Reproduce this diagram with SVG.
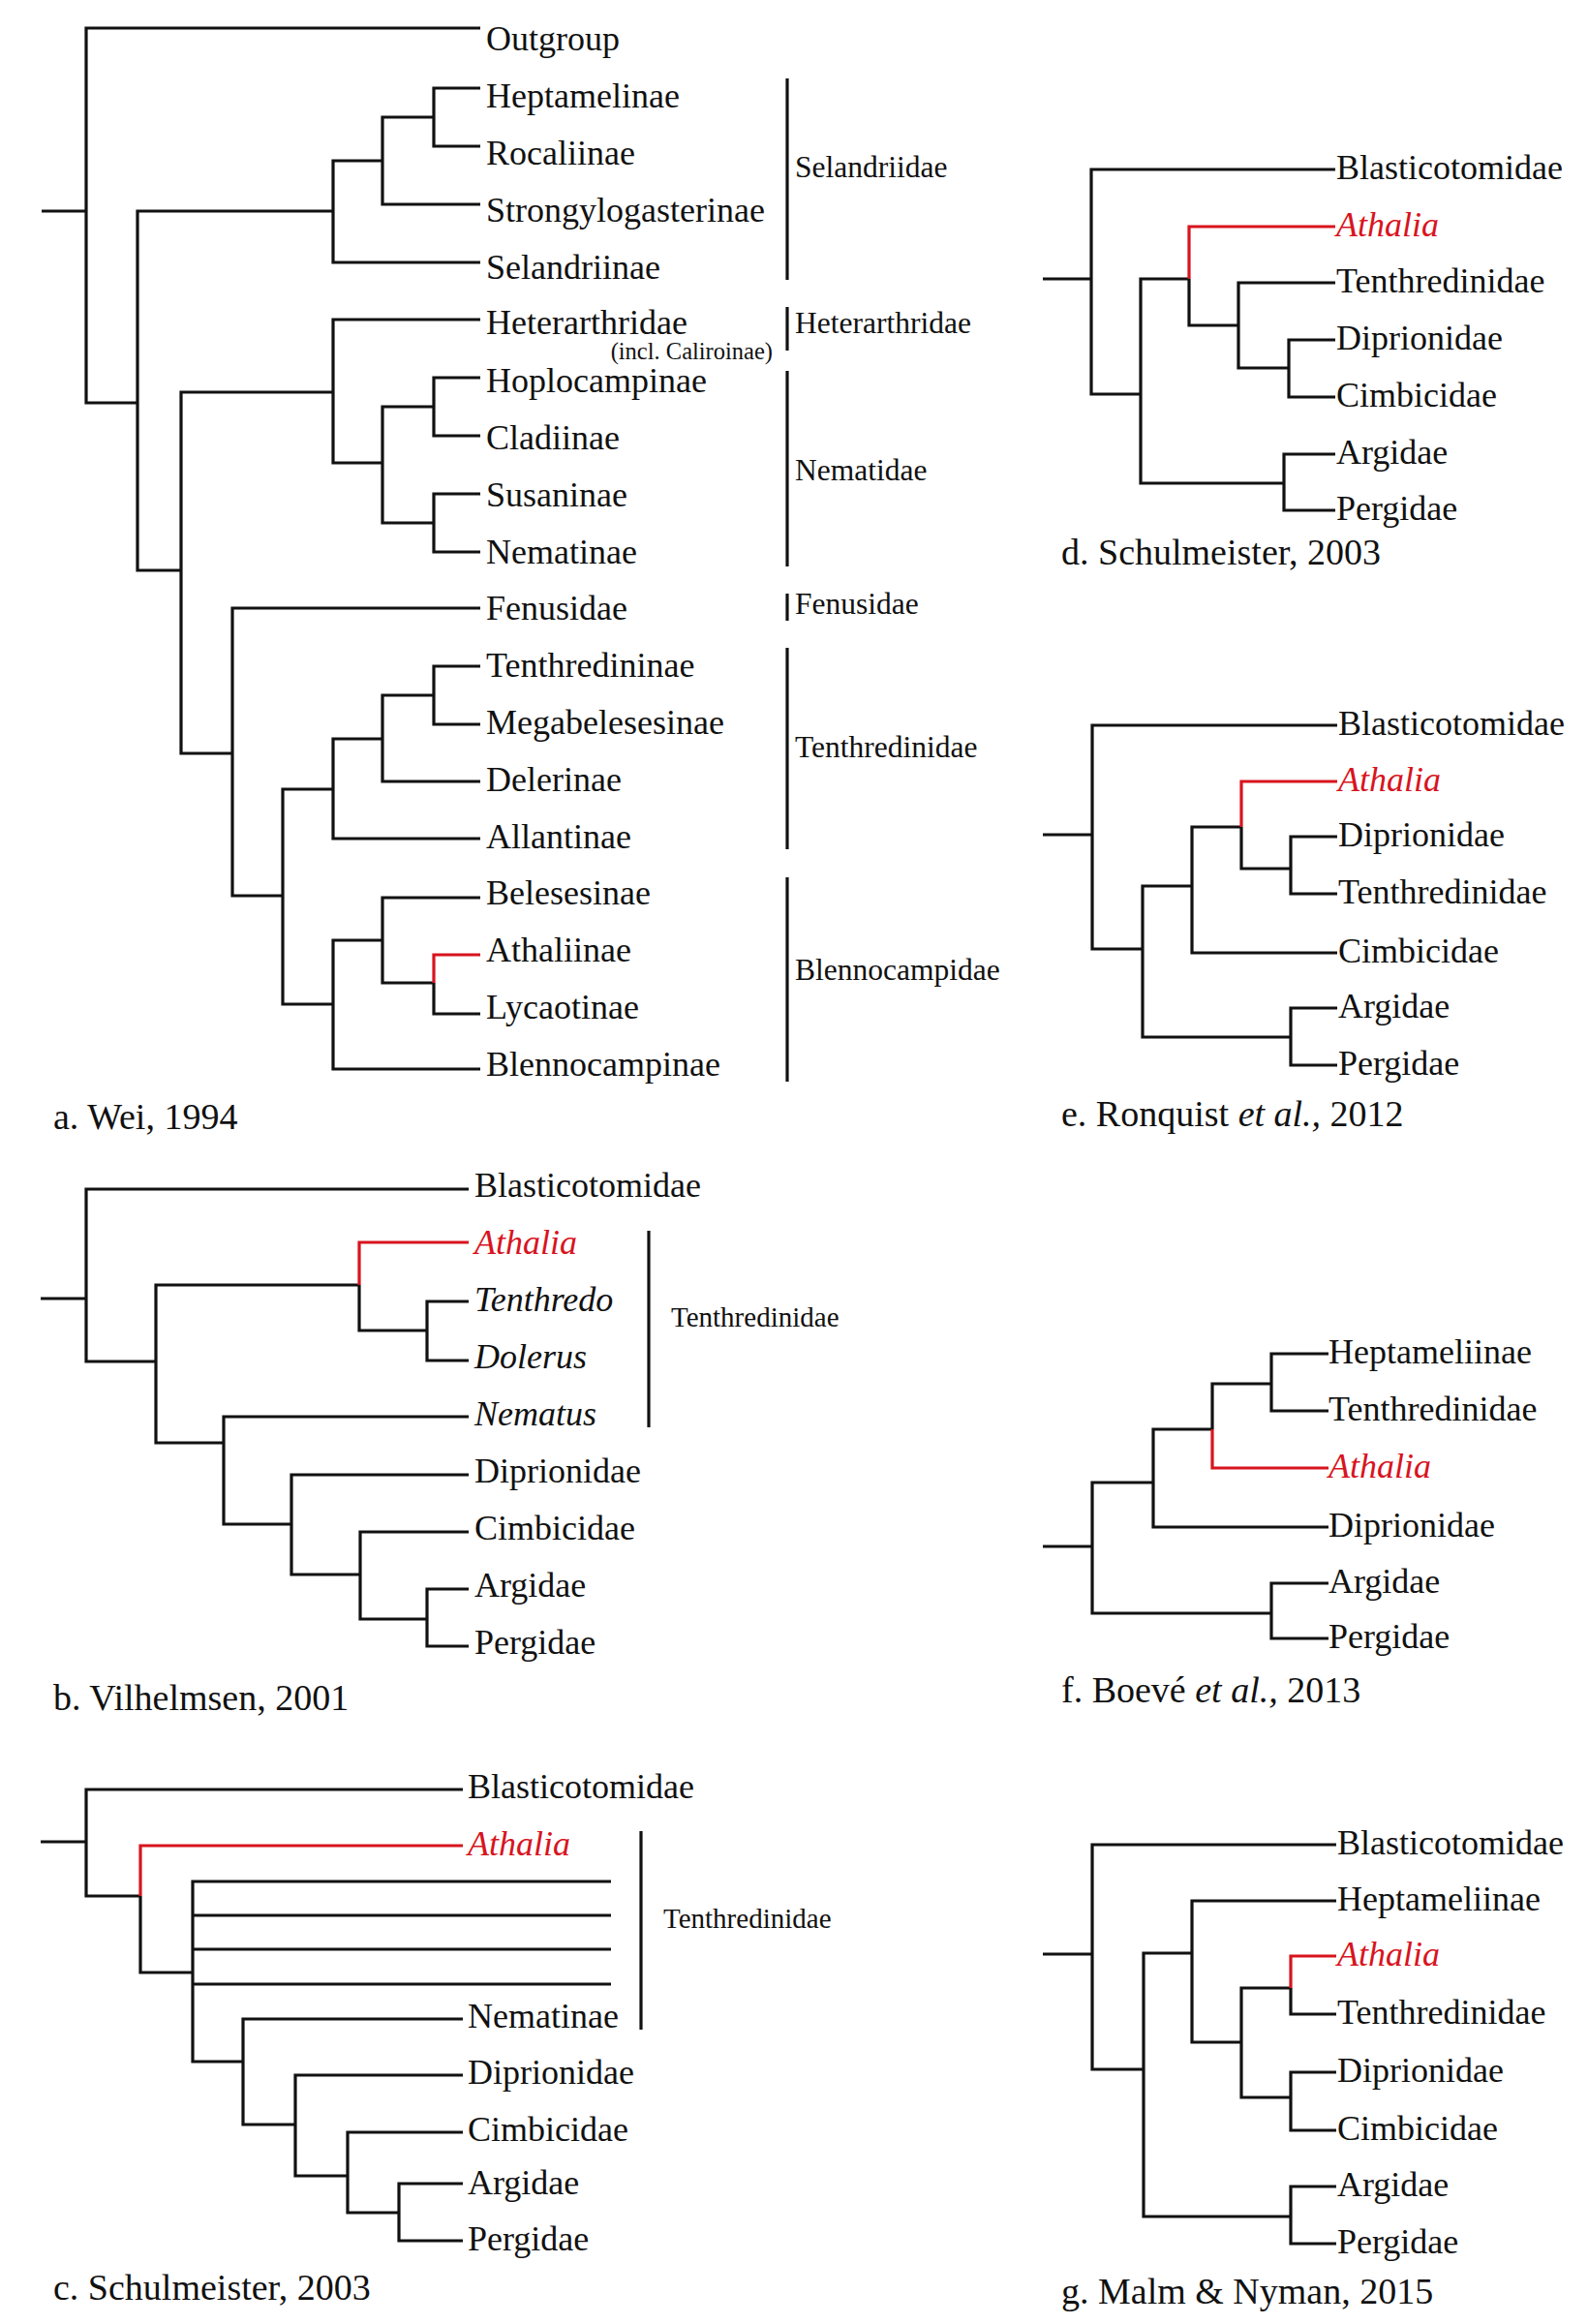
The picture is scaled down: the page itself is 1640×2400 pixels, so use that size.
<svg xmlns="http://www.w3.org/2000/svg" width="1640" height="2400" viewBox="0 0 1640 2400">
<style>
.br{fill:none;stroke:#111;stroke-width:3.2;stroke-linejoin:miter;stroke-linecap:butt}
.rd{stroke:#d8141e}
.bk{stroke:#111;stroke-width:3.2;fill:none}
text{font-family:"Liberation Serif","Times New Roman",serif;fill:#111}
.lb{font-size:36px}
.it{font-style:italic}
.rt{fill:#d8141e}
.gp{font-size:31.5px}
.gs{font-size:29px}
.sm{font-size:24.5px}
.cp{font-size:38px}
</style>
<rect width="1640" height="2400" fill="#fff"/>

<!-- Panel a -->
<g id="panel-a">
<g id="a-connectors">
<path class="br" d="M43 218H89"/>
<path class="br" d="M496 29H89V416H142"/>
<path class="br" d="M344 218H142V589H187"/>
<path class="br" d="M395 166H344V271H496"/>
<path class="br" d="M448 121H395V211H496"/>
<path class="br" d="M496 91H448V151H496"/>
<path class="br" d="M344 405H187V778H240"/>
<path class="br" d="M496 330H344V478H395"/>
<path class="br" d="M448 420H395V540H448"/>
<path class="br" d="M496 390H448V450H496"/>
<path class="br" d="M496 510H448V570H496"/>
<path class="br" d="M496 628H240V925H292"/>
<path class="br" d="M344 815H292V1037H344"/>
<path class="br" d="M395 763H344V866H496"/>
<path class="br" d="M448 718H395V807H496"/>
<path class="br" d="M496 688H448V748H496"/>
<path class="br" d="M395 971H344V1104H496"/>
<path class="br" d="M496 927H395V1015H448"/>
<path class="br rd" d="M448 1015V986H496"/>
<path class="br" d="M448 1015V1047H496"/>
<path class="bk" d="M813 81V289M813 317V362M813 383V585M813 613V641M813 669V877M813 906V1117"/>
</g>
<g id="a-outgroup"><text class="lb" x="502" y="52">Outgroup</text></g>
<g id="a-heptamelinae"><text class="lb" x="502" y="111">Heptamelinae</text></g>
<g id="a-rocaliinae"><text class="lb" x="502" y="170">Rocaliinae</text></g>
<g id="a-strongylogasterinae"><text class="lb" x="502" y="229">Strongylogasterinae</text></g>
<g id="a-selandriinae"><text class="lb" x="502" y="288">Selandriinae</text></g>
<g id="a-heterarthridae"><text class="lb" x="502" y="345">Heterarthridae</text><text class="sm" x="798" y="371" text-anchor="end">(incl. Caliroinae)</text></g>
<g id="a-hoplocampinae"><text class="lb" x="502" y="405">Hoplocampinae</text></g>
<g id="a-cladiinae"><text class="lb" x="502" y="464">Cladiinae</text></g>
<g id="a-susaninae"><text class="lb" x="502" y="523">Susaninae</text></g>
<g id="a-nematinae"><text class="lb" x="502" y="582">Nematinae</text></g>
<g id="a-fenusidae"><text class="lb" x="502" y="640">Fenusidae</text></g>
<g id="a-tenthredininae"><text class="lb" x="502" y="699">Tenthredininae</text></g>
<g id="a-megabelesesinae"><text class="lb" x="502" y="758">Megabelesesinae</text></g>
<g id="a-delerinae"><text class="lb" x="502" y="817">Delerinae</text></g>
<g id="a-allantinae"><text class="lb" x="502" y="876">Allantinae</text></g>
<g id="a-belesesinae"><text class="lb" x="502" y="934">Belesesinae</text></g>
<g id="a-athaliinae"><text class="lb" x="502" y="993">Athaliinae</text></g>
<g id="a-lycaotinae"><text class="lb" x="502" y="1052">Lycaotinae</text></g>
<g id="a-blennocampinae"><text class="lb" x="502" y="1111">Blennocampinae</text></g>
<g id="a-groups">
<text class="gp" x="821" y="183">Selandriidae</text>
<text class="gp" x="821" y="344">Heterarthridae</text>
<text class="gp" x="821" y="496">Nematidae</text>
<text class="gp" x="821" y="634">Fenusidae</text>
<text class="gp" x="821" y="782">Tenthredinidae</text>
<text class="gp" x="821" y="1012">Blennocampidae</text>
</g>
<g id="a-caption"><text class="cp" x="55" y="1166">a. Wei, 1994</text></g>
</g>

<!-- Panel b -->
<g id="panel-b">
<g id="b-connectors">
<path class="br" d="M42 1341H89"/>
<path class="br" d="M484 1228H89V1406H161"/>
<path class="br" d="M371 1327H161V1490H231"/>
<path class="br rd" d="M371 1327V1283H484"/>
<path class="br" d="M371 1327V1374H441"/>
<path class="br" d="M484 1344H441V1405H484"/>
<path class="br" d="M484 1463H231V1574H301"/>
<path class="br" d="M484 1523H301V1626H372"/>
<path class="br" d="M484 1582H372V1672H441"/>
<path class="br" d="M484 1641H441V1700H484"/>
<path class="bk" d="M670 1271V1474"/>
</g>
<g id="b-blasticotomidae"><text class="lb" x="490" y="1236">Blasticotomidae</text></g>
<g id="b-athalia"><text class="lb it rt" x="490" y="1295">Athalia</text></g>
<g id="b-tenthredo"><text class="lb it" x="490" y="1354">Tenthredo</text></g>
<g id="b-dolerus"><text class="lb it" x="490" y="1413">Dolerus</text></g>
<g id="b-nematus"><text class="lb it" x="490" y="1472">Nematus</text></g>
<g id="b-diprionidae"><text class="lb" x="490" y="1531">Diprionidae</text></g>
<g id="b-cimbicidae"><text class="lb" x="490" y="1590">Cimbicidae</text></g>
<g id="b-argidae"><text class="lb" x="490" y="1649">Argidae</text></g>
<g id="b-pergidae"><text class="lb" x="490" y="1708">Pergidae</text></g>
<g id="b-group"><text class="gs" x="693" y="1370">Tenthredinidae</text></g>
<g id="b-caption"><text class="cp" x="55" y="1766">b. Vilhelmsen, 2001</text></g>
</g>

<!-- Panel c -->
<g id="panel-c">
<g id="c-connectors">
<path class="br" d="M42 1902H89"/>
<path class="br" d="M478 1848H89V1958H145"/>
<path class="br rd" d="M145 1958V1906H478"/>
<path class="br" d="M145 1958V2037H199"/>
<path class="br" d="M631 1943H199V2129H251"/>
<path class="br" d="M631 1978H199M631 2013H199M631 2049H199"/>
<path class="br" d="M478 2085H251V2194H305"/>
<path class="br" d="M478 2143H305V2247H359"/>
<path class="br" d="M478 2202H359V2285H412"/>
<path class="br" d="M478 2255H412V2314H478"/>
<path class="bk" d="M662 1891V2096"/>
</g>
<g id="c-blasticotomidae"><text class="lb" x="483" y="1857">Blasticotomidae</text></g>
<g id="c-athalia"><text class="lb it rt" x="483" y="1916">Athalia</text></g>
<g id="c-nematinae"><text class="lb" x="483" y="2094">Nematinae</text></g>
<g id="c-diprionidae"><text class="lb" x="483" y="2152">Diprionidae</text></g>
<g id="c-cimbicidae"><text class="lb" x="483" y="2211">Cimbicidae</text></g>
<g id="c-argidae"><text class="lb" x="483" y="2266">Argidae</text></g>
<g id="c-pergidae"><text class="lb" x="483" y="2324">Pergidae</text></g>
<g id="c-group"><text class="gs" x="685" y="1991">Tenthredinidae</text></g>
<g id="c-caption"><text class="cp" x="55" y="2375">c. Schulmeister, 2003</text></g>
</g>

<!-- Panel d -->
<g id="panel-d">
<g id="d-connectors">
<path class="br" d="M1077 288H1127"/>
<path class="br" d="M1379 175H1127V407H1178"/>
<path class="br" d="M1228 288H1178V499H1326"/>
<path class="br rd" d="M1228 288V234H1379"/>
<path class="br" d="M1228 288V336H1279"/>
<path class="br" d="M1379 292H1279V380H1331"/>
<path class="br" d="M1379 351H1331V410H1379"/>
<path class="br" d="M1379 469H1326V527H1379"/>
</g>
<g id="d-blasticotomidae"><text class="lb" x="1380" y="185">Blasticotomidae</text></g>
<g id="d-athalia"><text class="lb it rt" x="1380" y="244">Athalia</text></g>
<g id="d-tenthredinidae"><text class="lb" x="1380" y="302">Tenthredinidae</text></g>
<g id="d-diprionidae"><text class="lb" x="1380" y="361">Diprionidae</text></g>
<g id="d-cimbicidae"><text class="lb" x="1380" y="420">Cimbicidae</text></g>
<g id="d-argidae"><text class="lb" x="1380" y="479">Argidae</text></g>
<g id="d-pergidae"><text class="lb" x="1380" y="537">Pergidae</text></g>
<g id="d-caption"><text class="cp" x="1096" y="583">d. Schulmeister, 2003</text></g>
</g>

<!-- Panel e -->
<g id="panel-e">
<g id="e-connectors">
<path class="br" d="M1077 862H1128"/>
<path class="br" d="M1381 749H1128V980H1180"/>
<path class="br" d="M1231 915H1180V1071H1333"/>
<path class="br" d="M1282 854H1231V984H1381"/>
<path class="br rd" d="M1282 854V807H1381"/>
<path class="br" d="M1282 854V897H1333"/>
<path class="br" d="M1381 864H1333V923H1381"/>
<path class="br" d="M1381 1041H1333V1100H1381"/>
</g>
<g id="e-blasticotomidae"><text class="lb" x="1382" y="759">Blasticotomidae</text></g>
<g id="e-athalia"><text class="lb it rt" x="1382" y="817">Athalia</text></g>
<g id="e-diprionidae"><text class="lb" x="1382" y="874">Diprionidae</text></g>
<g id="e-tenthredinidae"><text class="lb" x="1382" y="933">Tenthredinidae</text></g>
<g id="e-cimbicidae"><text class="lb" x="1382" y="994">Cimbicidae</text></g>
<g id="e-argidae"><text class="lb" x="1382" y="1051">Argidae</text></g>
<g id="e-pergidae"><text class="lb" x="1382" y="1110">Pergidae</text></g>
<g id="e-caption"><text class="cp" x="1096" y="1163">e. Ronquist <tspan class="it">et al.,</tspan> 2012</text></g>
</g>

<!-- Panel f -->
<g id="panel-f">
<g id="f-connectors">
<path class="br" d="M1077 1597H1128"/>
<path class="br" d="M1191 1531H1128V1666H1313"/>
<path class="br" d="M1252 1476H1191V1577H1372"/>
<path class="br" d="M1252 1476V1429H1313"/>
<path class="br rd" d="M1252 1476V1516H1372"/>
<path class="br" d="M1372 1398H1313V1457H1372"/>
<path class="br" d="M1372 1635H1313V1692H1372"/>
</g>
<g id="f-heptameliinae"><text class="lb" x="1372" y="1408">Heptameliinae</text></g>
<g id="f-tenthredinidae"><text class="lb" x="1372" y="1467">Tenthredinidae</text></g>
<g id="f-athalia"><text class="lb it rt" x="1372" y="1526">Athalia</text></g>
<g id="f-diprionidae"><text class="lb" x="1372" y="1587">Diprionidae</text></g>
<g id="f-argidae"><text class="lb" x="1372" y="1645">Argidae</text></g>
<g id="f-pergidae"><text class="lb" x="1372" y="1702">Pergidae</text></g>
<g id="f-caption"><text class="cp" x="1096" y="1758">f. Boevé <tspan class="it">et al.,</tspan> 2013</text></g>
</g>

<!-- Panel g -->
<g id="panel-g">
<g id="g-connectors">
<path class="br" d="M1077 2018H1128"/>
<path class="br" d="M1380 1905H1128V2137H1181"/>
<path class="br" d="M1231 2017H1181V2289H1333"/>
<path class="br" d="M1380 1963H1231V2109H1282"/>
<path class="br" d="M1333 2053H1282V2166H1333"/>
<path class="br rd" d="M1333 2053V2020H1380"/>
<path class="br" d="M1333 2053V2080H1380"/>
<path class="br" d="M1380 2140H1333V2200H1380"/>
<path class="br" d="M1380 2258H1333V2317H1380"/>
</g>
<g id="g-blasticotomidae"><text class="lb" x="1381" y="1915">Blasticotomidae</text></g>
<g id="g-heptameliinae"><text class="lb" x="1381" y="1973">Heptameliinae</text></g>
<g id="g-athalia"><text class="lb it rt" x="1381" y="2030">Athalia</text></g>
<g id="g-tenthredinidae"><text class="lb" x="1381" y="2090">Tenthredinidae</text></g>
<g id="g-diprionidae"><text class="lb" x="1381" y="2150">Diprionidae</text></g>
<g id="g-cimbicidae"><text class="lb" x="1381" y="2210">Cimbicidae</text></g>
<g id="g-argidae"><text class="lb" x="1381" y="2268">Argidae</text></g>
<g id="g-pergidae"><text class="lb" x="1381" y="2327">Pergidae</text></g>
<g id="g-caption"><text class="cp" x="1096" y="2379">g. Malm &amp; Nyman, 2015</text></g>
</g>
</svg>
